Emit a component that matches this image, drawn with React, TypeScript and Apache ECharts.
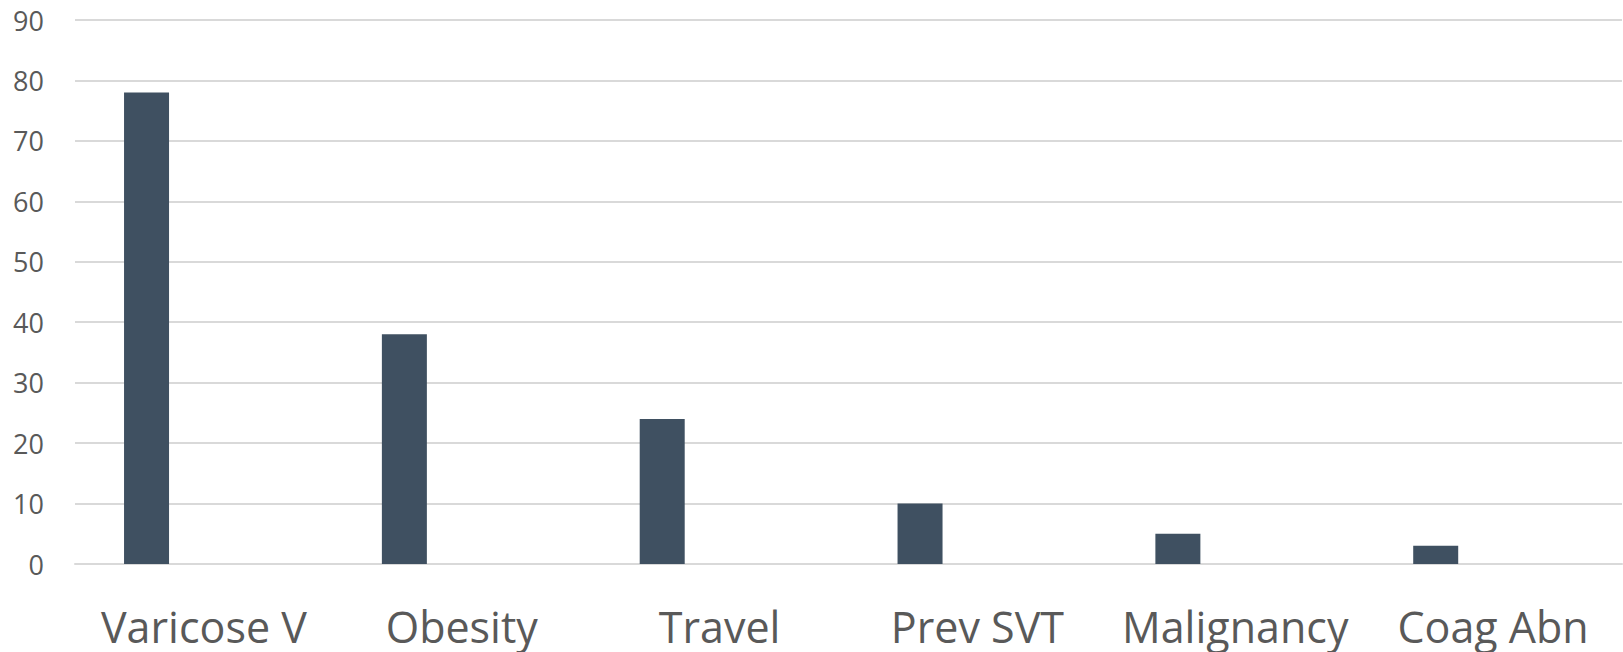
import React, { useEffect, useRef } from "react";
import * as echarts from "echarts";

const categories = ["Varicose V", "Obesity", "Travel", "Prev SVT", "Malignancy", "Coag Abn"];
const riskValues = [78, 38, 24, 10, 5, 3];
const emptyValues: (number | null)[] = [null, null, null, null, null, null];

const FONT = "'Open Sans', sans-serif";

export default function App() {
  const ref = useRef<HTMLDivElement>(null);

  useEffect(() => {
    if (!ref.current) return;
    const chart = echarts.init(ref.current, undefined, { renderer: "svg" });
    chart.setOption({
      animation: false,
      backgroundColor: "#ffffff",
      grid: { left: 75, right: 1, top: 20, bottom: 88, containLabel: false },
      xAxis: {
        type: "category",
        data: categories,
        axisLine: { show: true, lineStyle: { color: "#d9d9d9", width: 2 } },
        axisTick: { show: false },
        axisLabel: {
          color: "#595959",
          fontFamily: FONT,
          fontSize: 43,
          margin: 41,
          interval: 0,
        },
      },
      yAxis: {
        type: "value",
        min: 0,
        max: 90,
        interval: 10,
        axisLine: { show: false },
        axisTick: { show: false },
        splitLine: { lineStyle: { color: "#d9d9d9", width: 2 } },
        axisLabel: {
          color: "#595959",
          fontFamily: FONT,
          fontSize: 27,
          margin: 31,
        },
      },
      series: [
        {
          type: "bar",
          data: riskValues,
          barWidth: 45,
          barGap: "155%",
          itemStyle: { color: "#3f5061" },
        },
        {
          type: "bar",
          data: emptyValues,
          barWidth: 45,
          itemStyle: { color: "#3f5061" },
        },
      ],
    });
    return () => chart.dispose();
  }, []);

  return (
    <div
      ref={ref}
      style={{ position: "fixed", left: 0, top: 0, width: 1623, height: 652 }}
    />
  );
}
